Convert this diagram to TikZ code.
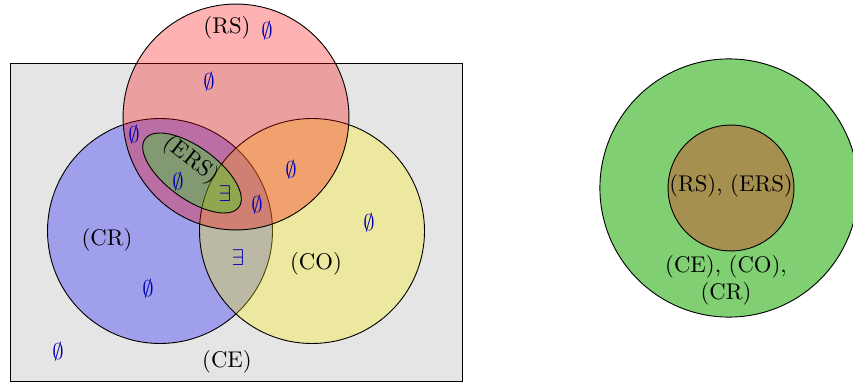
\documentclass[tikz,border=0pt]{standalone}
\definecolor{outergreen}{RGB}{128,207,115}
\begin{document}
\begin{tikzpicture}[x=0.44pt,y=0.44pt,
  setc/.style={draw=black, fill opacity=0.3},
  sym/.style={text=blue!70!black, inner sep=0pt},
  lbl/.style={inner sep=0pt, text=black}]
\useasboundingbox (0,0) rectangle (853,-383);
% universe
\draw[fill=gray!20] (10,-63) rectangle (462,-381);
% sets
\path[setc, fill=blue]   (160,-231) circle [radius=49.5pt];
\path[setc, fill=yellow] (312,-231) circle [radius=49.5pt];
\path[setc, fill=red]    (236,-117) circle [radius=49.7pt];
\path[setc, fill=green, rotate around={-36:(192,-173)}] (192,-173) ellipse [x radius=25.5pt, y radius=11.4pt];
% labels
\node[lbl] (rs)  at (227,-28)  {(RS)};
\node[lbl, rotate=-38] (ers) at (191,-160) {(ERS)};
\node[lbl] (cr)  at (107,-240) {(CR)};
\node[lbl] (co)  at (316,-264) {(CO)};
\node[lbl] (ce)  at (227,-362) {(CE)};
% symbols
\node[sym] (e1)  at (267,-31)  {$\emptyset$};
\node[sym] (e2)  at (209,-82)  {$\emptyset$};
\node[sym] (e3)  at (134,-135) {$\emptyset$};
\node[sym] (e4)  at (178,-182) {$\emptyset$};
\node[sym] (x1)  at (225,-194) {$\exists$};
\node[sym] (e5)  at (257,-205) {$\emptyset$};
\node[sym] (e6)  at (291,-170) {$\emptyset$};
\node[sym] (e7)  at (369,-223) {$\emptyset$};
\node[sym] (x2)  at (238,-258) {$\exists$};
\node[sym] (e8)  at (148,-289) {$\emptyset$};
\node[sym] (e9)  at (58,-352)  {$\emptyset$};
% right diagram
\path[draw=black, fill=outergreen] (729,-188) circle [radius=56.8pt];
\path[setc, fill=red] (731,-188) circle [radius=27.7pt];
\node[lbl] (inner) at (731,-186) {(RS), (ERS)};
\node[lbl, align=center] (outer) at (726,-280) {(CE), (CO),\\(CR)};
\end{tikzpicture}
\end{document}
